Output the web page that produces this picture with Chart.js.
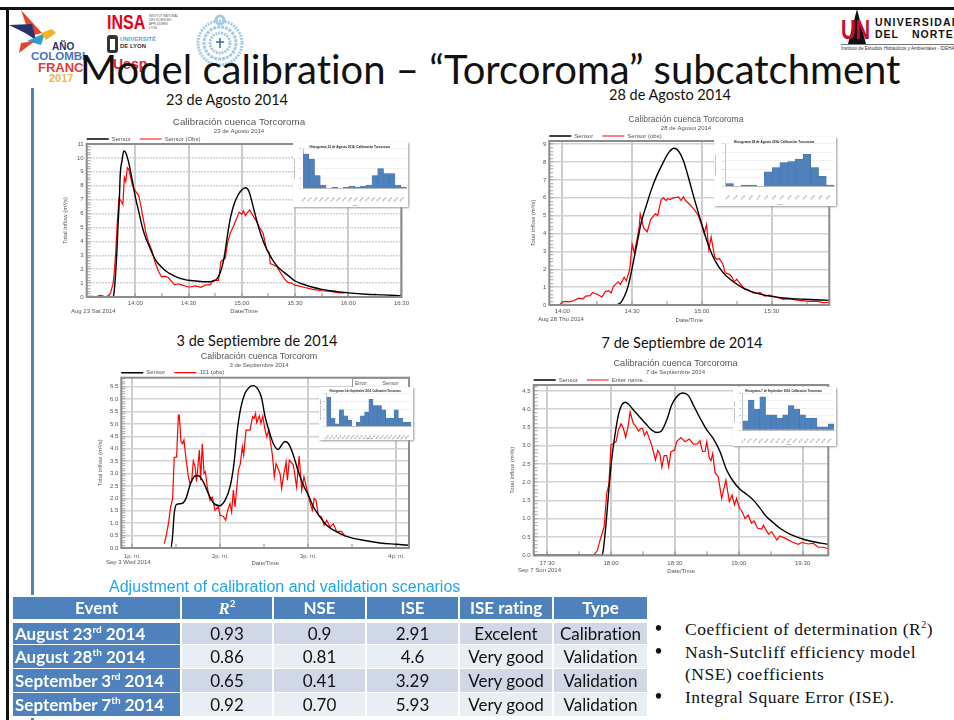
<!DOCTYPE html>
<html>
<head>
<meta charset="utf-8">
<title>Model calibration</title>
<script src="https://cdn.jsdelivr.net/npm/chart.js@4"></script>
<style>
  html, body { margin:0; padding:0; background:#fff; }
  #page { position:relative; width:954px; height:720px; overflow:hidden; background:#fff; filter:blur(0.3px); font-family:Lato, sans-serif; font-variant-ligatures:none; color:#111; }
  #page canvas { position:absolute; }
  .abs { position:absolute; white-space:nowrap; }
  .cap { font-size:14.5px; transform:translateX(-50%); line-height:16px; }
  .stamp { font:6px "Liberation Sans", sans-serif; color:#555; }
  .panel { position:absolute; background:#fff; box-shadow:1px 1px 2px #999; }
  table { position:absolute; left:11px; top:597px; border-collapse:separate; border-spacing:0; table-layout:fixed; width:636px; font-size:17px; text-align:center; }
  td, th { padding:0; border-left:2px solid #fff; box-sizing:border-box; line-height:18px; }
  th { background:#4f81bd; color:#fff; height:26px; border-bottom:4px solid #fff; }
  td { height:24px; border-bottom:1px solid #fff; }
  tr.first td { height:22px; }
  td.ev { background:#4f81bd; color:#fff; font-weight:bold; text-align:left; padding-left:2px; }
  tr.a td:not(.ev) { background:#d0d8e8; }
  tr.b td:not(.ev) { background:#e9edf4; }
  sup { font-size:10px; line-height:0; }
  .note { font:17.5px "Liberation Serif", serif; letter-spacing:0.5px; left:685px; }
  .dot { font:bold 20px "Liberation Serif", serif; left:655px; }
</style>
</head>
<body>
<div id="page">
  <div class="abs" style="left:0;top:7px;width:954px;height:3px;background:#111"></div>
  <div class="abs" style="left:6px;top:7px;width:3px;height:713px;background:#111"></div>
  <div class="abs" style="left:31px;top:88px;width:3px;height:507px;background:#4f81bd"></div>
  <div class="abs" style="left:31px;top:718px;width:3px;height:2px;background:#4f81bd"></div>

  <svg class="abs" style="left:0;top:0" width="260" height="90">
    <polygon points="21,10 42,33 30,36" fill="#e8432e"/>
    <polygon points="9,25 32,24 36,40 25,33" fill="#27336d"/>
    <polygon points="27,41 45,33 41,45" fill="#2f9fc6"/>
    <polygon points="19,53 21,43 35,41" fill="#e8432e"/>
    <polygon points="41,33 52,29 56,33 46,40" fill="#f0b429"/>
    <g fill="none" stroke="#a5c9e6" stroke-width="3">
      <circle cx="220" cy="43" r="22" stroke-dasharray="2 1"/>
      <circle cx="220" cy="43" r="16" stroke-dasharray="3 1"/>
      <circle cx="220" cy="43" r="10" stroke-dasharray="2 1"/>
      <circle cx="220" cy="20" r="4"/>
    </g>
    <path d="M220 38v10M216 42h8" stroke="#3d6d99" stroke-width="1.5"/>
    <rect x="107" y="35" width="11" height="18" rx="3" fill="#333"/>
    <rect x="110" y="39" width="5" height="11" fill="#fff"/>
  </svg>
  <div class="abs" style="left:52px;top:41px;font:bold 10px 'Liberation Sans';color:#27336d">AÑO</div>
  <div class="abs" style="left:31px;top:50px;font:bold 11.5px 'Liberation Sans';color:#4a76b8">COLOMBI</div>
  <div class="abs" style="left:38px;top:60px;font:bold 13px 'Liberation Sans';color:#d9403a">FRANC</div>
  <div class="abs" style="left:49px;top:72px;font:bold 11px 'Liberation Sans';color:#e9b949">2017</div>
  <div class="abs" style="left:107px;top:11px;font:bold 20px 'Liberation Sans';color:#e2001a;transform:scaleX(0.8);transform-origin:left">INSA</div>
  <div class="abs" style="left:149px;top:14px;font:3px 'Liberation Sans';color:#555;line-height:4px">INSTITUT NATIONAL<br>DES SCIENCES<br>APPLIQUÉES<br>LYON</div>
  <div class="abs" style="left:120px;top:36px;font:bold 6px 'Liberation Sans';color:#5aa5cf">UNIVERSITÉ</div>
  <div class="abs" style="left:120px;top:43px;font:bold 6px 'Liberation Sans';color:#333">DE LYON</div>
  <div class="abs" style="left:113px;top:56px;font:bold 14px 'Liberation Sans';color:#d9262c">Uesp</div>

  <svg class="abs" style="left:841px;top:8px" width="30" height="36"><polygon points="16,1 25,36 7,36" fill="#111"/></svg>
  <div class="abs" style="left:841px;top:15px;font:bold 27px 'Liberation Sans';color:#c8102e;transform:scaleX(0.75);transform-origin:left">UN</div>
  <div class="abs" style="left:875px;top:16px;font:bold 10.5px 'Liberation Sans';letter-spacing:1.2px;color:#111">UNIVERSIDAD</div>
  <div class="abs" style="left:875px;top:28px;font:bold 10.5px 'Liberation Sans';letter-spacing:1px;color:#111">DEL</div>
  <div class="abs" style="left:912px;top:28px;font:bold 10.5px 'Liberation Sans';letter-spacing:1px;color:#111">NORTE</div>
  <div class="abs" style="left:841px;top:44px;width:113px;height:1px;background:#777"></div>
  <div class="abs" style="left:841px;top:46px;font:4.6px 'Liberation Sans';color:#333">Instituto de Estudios Hidráulicos y Ambientales - IDEHA</div>

  <div class="abs" id="slideTitle" style="left:80px;top:45px;font-size:40px;line-height:48px;color:#111">Model calibration – “Torcoroma” subcatchment</div>

  <div class="abs cap" style="left:227px;top:92px">23 de Agosto 2014</div>
  <div class="abs cap" style="left:670px;top:87px">28 de Agosto 2014</div>
  <div class="abs cap" style="left:257px;top:333px">3 de Septiembre de 2014</div>
  <div class="abs cap" style="left:682px;top:335px">7 de Septiembre de 2014</div>

  <canvas id="flow1" width="354" height="203" style="left:62px;top:112px"></canvas>
  <canvas id="flow2" width="312" height="215" style="left:530px;top:109px"></canvas>
  <canvas id="flow3" width="328" height="222" style="left:95px;top:345px"></canvas>
  <canvas id="flow4" width="341" height="222" style="left:505px;top:353px"></canvas>

  <div class="abs stamp" style="left:71px;top:308px">Aug 23 Sat 2014</div>
  <div class="abs stamp" style="left:538px;top:316px">Aug 28 Thu 2014</div>
  <div class="abs stamp" style="left:106px;top:559px">Sep 3 Wed 2014</div>
  <div class="abs stamp" style="left:518px;top:567px">Sep 7 Sun 2014</div>

  <div class="abs" style="left:352px;top:378px;width:55px;height:9px;background:#fff;border:1px solid #999;font:5px/9px 'Liberation Sans';color:#555"><span style="margin-left:2px">Error:</span><span style="margin-left:15px">Sensor</span></div>

  <div class="panel" style="left:293px;top:142px;width:115px;height:65px"></div>
  <div class="panel" style="left:714px;top:137px;width:122px;height:69px"></div>
  <div class="panel" style="left:319px;top:387px;width:94px;height:53px"></div>
  <div class="panel" style="left:733px;top:387px;width:103px;height:59px"></div>
  <canvas id="rain1" width="115" height="65" style="left:293px;top:142px"></canvas>
  <canvas id="rain2" width="122" height="69" style="left:714px;top:137px"></canvas>
  <canvas id="rain3" width="94" height="53" style="left:319px;top:387px"></canvas>
  <canvas id="rain4" width="103" height="59" style="left:733px;top:387px"></canvas>

  <div class="abs" style="left:109px;top:578px;font:16px/18px 'Liberation Sans';color:#1ea7ea">Adjustment of calibration and validation scenarios</div>
  <table>
    <colgroup><col style="width:169px"><col style="width:92px"><col style="width:93px"><col style="width:93px"><col style="width:94px"><col style="width:95px"></colgroup>
    <tr><th>Event</th><th><i style="font-family:'Liberation Serif'">R</i><sup>2</sup></th><th>NSE</th><th>ISE</th><th>ISE rating</th><th>Type</th></tr>
    <tr class="a first"><td class="ev">August 23<sup>rd</sup> 2014</td><td>0.93</td><td>0.9</td><td>2.91</td><td>Excelent</td><td>Calibration</td></tr>
    <tr class="b"><td class="ev">August 28<sup>th</sup> 2014</td><td>0.86</td><td>0.81</td><td>4.6</td><td>Very good</td><td>Validation</td></tr>
    <tr class="a"><td class="ev">September 3<sup>rd</sup> 2014</td><td>0.65</td><td>0.41</td><td>3.29</td><td>Very good</td><td>Validation</td></tr>
    <tr class="b"><td class="ev">September 7<sup>th</sup> 2014</td><td>0.92</td><td>0.70</td><td>5.93</td><td>Very good</td><td>Validation</td></tr>
  </table>

  <div class="abs dot" style="top:617px">•</div>
  <div class="abs dot" style="top:640px">•</div>
  <div class="abs dot" style="top:685px">•</div>
  <div class="abs note" style="top:619px">Coefficient of determination (R<sup>2</sup>)</div>
  <div class="abs note" style="top:642px">Nash-Sutcliff efficiency model</div>
  <div class="abs note" style="top:664px">(NSE) coefficients</div>
  <div class="abs note" style="top:687px">Integral Square Error (ISE).</div>
</div>

<script>
// 23 Aug, minutes from 14:00
const aug23SensorTime = [-27,-12.6,-12,-11.2,-10.5,-9.8,-9,-8.5,-7.5,-6.5,-5.5,-4,-2,0,2,4,6,8,10,12,14,16,18,20,24,28,30,34,38,42,44,46,48,50,51,52,53,54,55,56,57,58,59,60,61,62,63,64,65,66,67,68,70,72,74,76,78,80,84,88,90,95,100,105,110,115,120,130,140,150];
const aug23Sensor = [0,0,0.3,1.5,3,5,7,8.8,9.8,10.5,10.4,9.8,8.6,7.2,6.1,5,4.2,3.6,3,2.55,2.25,2,1.8,1.65,1.4,1.25,1.2,1.15,1.1,1.1,1.15,1.3,1.8,2.8,3.6,4.5,5.3,5.9,6.4,6.8,7.1,7.35,7.55,7.7,7.8,7.85,7.8,7.6,7.2,6.7,6.2,5.7,4.8,4.05,3.45,2.95,2.55,2.2,1.75,1.35,1.15,0.9,0.7,0.55,0.45,0.37,0.3,0.2,0.15,0.08];
const aug23ObsTime = [-27,-24,-22,-20,-18,-17,-15,-14,-12.5,-12,-11,-10,-9.2,-8,-7,-6.2,-5.4,-4.5,-3.8,-2.8,-1.6,-0.4,0.7,1.9,3.2,4.5,6,7.3,9.2,11,13,14.8,16.7,18.6,20.5,22.3,24,26,30,32,33.7,37,39.6,42,44,46.9,48.2,50.7,52,53.5,55,57,58.5,60,61,62,63,64.5,66,68,70,72,74,75.5,76,78,80,82,84,86,88,90,95,100,105,110,115,118];
const aug23Obs = [0.05,0.05,0.02,0.12,0.07,0,0.1,0.25,1,1.6,3.3,5.7,7.1,6.9,6.65,8.6,8.3,9.3,9.2,8.7,8,7.7,7.5,7.3,6.5,5.6,4.6,4,3.4,2.55,1.85,1.45,1.5,1.4,1.1,0.87,0.95,0.87,0.72,0.75,0.8,0.7,0.87,0.87,1.2,1.2,2.55,2.8,3.9,4.6,5,5.6,6.1,5.95,6.2,5.85,6.05,6.25,5.9,5.5,5,4.6,3.4,3.2,2.4,2.3,2.15,1.7,1.3,1.05,1,0.85,0.7,0.55,0.45,0.4,0.3,0.3];
const aug23TickValues = [0,30,60,90,120,150];
const aug23TickLabels = ['14:00','14:30','15:00','15:30','16:00','16:30'];

// 28 Aug, minutes from 14:00
const aug28SensorTime = [-5.6,21.9,24.8,26.9,28.4,30,32,34,36.2,38.4,40.5,42.7,45.6,48,49.8,52,54.2,56.3,60,62.8,65.6,69.2,73.5,77.8,82,89,96.4,104,114.8];
const aug28Sensor = [0,0,0.1,0.55,1.1,2.05,3.35,4.65,5.6,6.5,7.2,7.8,8.5,8.77,8.65,8.1,7.15,6.15,4.5,3.35,2.5,1.8,1.3,0.95,0.72,0.5,0.38,0.32,0.26];
const aug28ObsTime = [-5.6,-1,0,1.5,3,5,7,9,10,12,13,15,17,18.5,20,21,22,24,25,26.6,27.5,29,30,31,32,33,33.5,35,36.5,38,40,41,42.5,43.5,44.5,45.5,46.5,47.5,49,50,51,52,53,55,57,58.5,60,61,62,63,64,65.5,66.5,67.5,69,70,72,73,74,75,77,78.5,80,82,84,85,87,89,92,95,98,100,103,106,108,110,112,114.8];
const aug28Obs = [0,0.02,0.17,0.2,0.18,0.25,0.38,0.35,0.5,0.52,0.7,0.6,0.45,0.75,0.8,0.68,1.05,1.3,1.15,1.55,1.35,2,3.4,2.9,3.6,4.3,5.1,4.3,4.1,4.8,5.1,5,5.9,6,5.85,5.95,5.9,6,6.02,6.05,5.85,6.05,5.85,5.6,5.3,5,4.45,4,4.5,3.1,3.8,2.7,2.55,2.6,2.3,1.8,1.7,1.55,1.3,1.45,1.1,0.9,0.85,0.67,0.65,0.7,0.5,0.55,0.45,0.32,0.35,0.28,0.25,0.2,0.22,0.2,0.13,0.15];
const aug28TickValues = [0,30,60,90];
const aug28TickLabels = ['14:00','14:30','15:00','15:30'];

// 3 Sep, minutes from 13:00
const sep3SensorTime = [-7.5,26.1,27.3,28.6,30.2,33.6,36.6,39.3,42.7,45,48.4,51.8,55.2,59.3,63.2,66.6,69.3,71.6,73.9,76.8,80.2,82.5,85.9,88.2,90.5,92.7,96.1,99.5,101.8,104,106.4,109.8,113.2,116.6,120,123.4,128,132.5,139.3,146,157.5,168.9,180,188.6];
const sep3Sensor = [0,0,0.38,1.4,1.76,1.79,2,2.53,2.9,2.91,2.66,2.2,1.82,1.7,1.92,2.46,3.4,4.75,5.63,6.23,6.5,6.54,6.37,6.03,5.29,4.82,4.21,3.97,4.15,4.29,4.21,3.74,3.07,2.53,2.13,1.66,1.25,0.92,0.65,0.47,0.31,0.2,0.15,0.11];
const sep3ObsTime = [21.8,23.4,24.8,26.1,27.5,28.6,30.2,31.4,32,33.2,34.3,35.2,36.6,38.2,39.3,40.5,41.6,42.7,43.8,45.7,46.6,47.7,48.9,49.8,51.1,52.9,54.5,56.4,58.6,59.8,62,63.6,65,66.6,67.7,68.9,70,72.3,73.6,75,75.9,77.5,80.2,82,83,84,84.8,86.6,87.7,88.9,90.5,91.6,93,94.3,95.5,96.8,98,100.7,101.8,103.4,104.8,105.7,107,109.8,112,113.7,115.5,117,118.9,120.7,122.7,124,125.2,126.8,129,130.7,132.5,134.8,137,139.3,142.7,145];
const sep3Obs = [0.18,0.58,1.05,1.65,2,3.65,3.67,5.35,5.35,4.28,4.2,4.35,3.6,2.87,2.6,2.74,3.5,3.3,2.67,3.95,2.73,4.2,3,3.07,2.46,1.92,2.05,1.52,1.66,1.32,1.28,1.12,1.52,1.79,1.45,2.33,1.65,3.13,3.38,4.08,3.74,4.75,4.75,5.29,5.22,5.42,5.05,5.32,5.02,5.32,4.75,4.48,4.75,4.21,3.74,2.87,3.4,3,2.4,3,3.47,2.73,3.54,3.34,2.46,3.7,2.33,2.87,2.4,1.92,1.52,1.99,1.92,1.32,1.25,0.92,1.12,0.85,0.98,0.67,0.67,0.47];
const sep3TickValues = [0,60,120,180];
const sep3TickLabels = ['1p. m.','2p. m.','3p. m.','4p. m.'];

// 7 Sep, minutes from 17:30
const sep7SensorTime = [-6.3,25.7,26.4,27.7,29,30.4,32,33.5,35,36.6,38.2,40.5,43.6,46.8,49.1,51.5,53.8,56.2,58.5,60.9,63.7,66.4,68.7,71.9,75,78,81.2,84.3,87.5,90.6,93.7,96.9,100,103,106.3,109.4,114,118.8,123.5,132.1];
const sep7Sensor = [0,0,0.15,0.88,1.79,2.65,3.34,3.84,4.11,4.19,4.14,3.98,3.78,3.57,3.43,3.36,3.41,3.7,4.11,4.34,4.44,4.37,4.11,3.75,3.43,3.2,2.84,2.34,2.02,1.81,1.67,1.51,1.29,1.06,0.89,0.74,0.58,0.47,0.39,0.3];
const sep7ObsTime = [21.8,23.6,24.9,26.8,28,29,30,31,32.4,33.5,34.7,35.8,36.9,37.9,39,40.5,41.8,42.9,44,44.9,45.7,46.8,48,49.1,49.9,50.9,52,53,53.9,55,56.2,57.1,58.2,59.8,60.9,62.8,64.8,66.8,68.7,70.6,71.8,73,74.2,75,76.2,77,77.8,78.9,80.4,82,84,85.6,86.9,88,89,90.3,91.4,93,94.5,96,97.2,98.9,100.8,101.6,104,105.5,107.9,109.4,111.7,114.9,118,119.6,122.7,125,127.3,129.7,132.1];
const sep7Obs = [0,0.13,0.42,0.78,1.7,1.93,3.02,3.05,3.11,3.43,3.6,3.48,3.23,3.48,3.92,3.6,3.52,3.4,3.47,3.47,3.28,3.39,3.2,3.02,2.84,2.61,2.87,2.77,2.41,2.73,2.73,2.43,2.84,2.87,3.11,3.22,3.11,3.18,3.04,3.05,3.14,2.84,2.84,3.11,2.66,2.59,2.79,2.26,2.15,1.56,2.06,1.47,1.65,1.38,1.56,1.29,1.22,1.01,1.1,0.88,0.94,0.74,0.72,0.82,0.58,0.65,0.42,0.53,0.47,0.37,0.3,0.35,0.31,0.33,0.22,0.22,0.18];
const sep7TickValues = [0,30,60,90,120];
const sep7TickLabels = ['17:30','18:00','18:30','19:00','19:30'];

// rainfall insets
const rain1Labels = ['13:30','13:40','13:50','14:00','14:10','14:20','14:30','14:40','14:50','15:00','15:10','15:20','15:30','15:40','15:50','16:00','16:10','16:20'];
const rain1Values = [6.9,5.9,2.6,0.7,0,0.3,0,0.3,0.5,0.3,0.5,0.7,2.6,4,3,3,0.7,0.3];
const rain2Labels = ['14:00','14:10','14:20','14:30','14:40','14:50','15:00','15:10','15:20','15:30','15:40','15:50','16:00','16:10'];
const rain2Values = [0.33,0,0.17,0.17,0,1.7,2.2,2.8,2.9,3.2,3.75,2.2,1.2,0.17];
const rain3Labels = ['13:00','13:10','13:20','13:30','13:40','13:50','14:00','14:10','14:20','14:30','14:40','14:50','15:00','15:10','15:20','15:30','15:40','15:50','16:00','16:10'];
const rain3Values = [3.5,1,0.3,2,1.25,0.75,0,0.5,1.25,1.75,3.25,2.5,2.5,2,1,1,2,1,0.5,0.5];
const rain4Labels = ['17:30','17:40','17:50','18:00','18:10','18:20','18:30','18:40','18:50','19:00','19:10','19:20','19:30','19:40','19:50','20:00'];
const rain4Values = [1.25,4.07,2.87,4.54,2.08,2.08,1.62,2.08,3.33,2.87,2.08,1.62,1.62,0.42,0.42,0.83];

const FONT = '"Liberation Sans", sans-serif';
const GREY = '#555';

function zip(xs, ys) {
  return xs.map(function(x, i){ return { x: x, y: ys[i] }; });
}

function stepTicks(min, max, step) {
  const out = [];
  for (let i = Math.ceil(min / step - 1e-6); i * step <= max + 1e-6; i++) {
    out.push({ value: Math.round(i * step * 1000) / 1000 });
  }
  return out;
}

// legend sits tight on the plot, titles center on the whole canvas
const tightLegend = {
  id: 'tightLegend',
  beforeInit(chart) {
    const fit = chart.legend.fit;
    chart.legend.fit = function(){ fit.call(this); this.height = 9; };
  },
  afterLayout(chart) {
    chart.legend.top -= 8;
    chart.legend.left -= 9;
    const shift = chart.options.layout.padding.right / 2;
    chart.boxes.forEach(function(box){
      if (box.position === 'top' && box !== chart.legend) {
        box.left += shift;
        box.right += shift;
      }
    });
  }
};

const plotBox = {
  id: 'plotBox',
  afterDraw(chart) {
    const a = chart.chartArea;
    const ctx = chart.ctx;
    ctx.save();
    ctx.strokeStyle = '#8c8c8c';
    ctx.lineWidth = 2;
    ctx.strokeRect(a.left, a.top, a.right - a.left, a.bottom - a.top);
    ctx.restore();
  }
};

function flowChart(cfg) {
  const isMajorY = function(v){ return Math.abs(v / cfg.yStep - Math.round(v / cfg.yStep)) < 1e-6; };
  const chart = new Chart(document.getElementById(cfg.id), {
    type: 'line',
    data: {
      datasets: [
        { label: 'Sensor', data: zip(cfg.sensorTime, cfg.sensor), borderColor: '#000', backgroundColor: '#000', borderWidth: 1.4, pointRadius: 0, cubicInterpolationMode: 'monotone' },
        { label: cfg.obsName, data: zip(cfg.obsTime, cfg.obs), borderColor: '#f00', backgroundColor: '#f00', borderWidth: 1.2, pointRadius: 0, tension: 0 }
      ]
    },
    options: {
      responsive: false,
      animation: false,
      layout: { padding: { top: 0, right: cfg.padRight, bottom: 0, left: 0 } },
      plugins: {
        title: { display: true, text: cfg.title, color: GREY, padding: 0, font: { family: FONT, size: cfg.titleSize, weight: 'normal' } },
        subtitle: { display: true, text: cfg.subtitle, color: GREY, padding: 0, font: { family: FONT, size: 6 } },
        legend: {
          align: 'start',
          fullSize: false,
          labels: { color: GREY, font: { family: FONT, size: 6 }, usePointStyle: true, pointStyle: 'line', pointStyleWidth: 22, padding: 9, boxHeight: 6 }
        },
        tooltip: { enabled: false }
      },
      scales: {
        x: {
          type: 'linear',
          min: cfg.xMin,
          max: cfg.xMax,
          afterFit(scale) { scale.height = cfg.xAxisHeight; },
          afterBuildTicks(scale) { scale.ticks = stepTicks(cfg.xMin, cfg.xMax, cfg.xMinor); },
          ticks: {
            autoSkip: false, maxRotation: 0, padding: cfg.xTickPad, color: GREY, font: { family: FONT, size: 6 },
            callback: function(v){ const i = cfg.tickValues.indexOf(v); return i < 0 ? '' : cfg.tickLabels[i]; }
          },
          grid: {
            tickLength: -4, tickColor: '#8c8c8c', tickWidth: 1,
            color: function(c){ return c.tick && cfg.tickValues.indexOf(c.tick.value) >= 0 ? '#cccccc' : 'transparent'; },
            lineWidth: 2
          },
          border: { display: false },
          title: { display: true, text: 'Date/Time', color: GREY, padding: { top: 0, bottom: 0 }, font: { family: FONT, size: 6 } }
        },
        y: {
          min: 0,
          max: cfg.yMax,
          afterFit(scale) { scale.width = cfg.yAxisWidth; },
          afterBuildTicks(scale) { scale.ticks = stepTicks(0, cfg.yMax, cfg.yMinor); },
          ticks: {
            autoSkip: false, padding: 7, color: GREY, font: { family: FONT, size: 6 },
            callback: function(v){ return isMajorY(v) ? v.toFixed(cfg.yDigits) : ''; }
          },
          grid: {
            tickLength: -4, tickColor: '#a5a5a5', tickWidth: 1,
            color: function(c){ return c.tick && isMajorY(c.tick.value) ? '#d2d2d2' : 'transparent'; },
            lineWidth: 1.5
          },
          border: { display: false, dash: cfg.yDash },
          title: { display: true, text: cfg.yTitle, color: GREY, padding: { top: cfg.yTitlePad, bottom: 0 }, font: { family: FONT, size: 6 } }
        }
      }
    },
    plugins: [tightLegend, plotBox]
  });
  // put the plot top where it belongs
  chart.options.layout.padding.top = cfg.plotTop - chart.chartArea.top;
  chart.update();
}

function rainChart(cfg) {
  new Chart(document.getElementById(cfg.id), {
    type: 'bar',
    data: {
      labels: cfg.labels,
      datasets: [{ data: cfg.values, backgroundColor: '#4f81bd', borderColor: '#44719f', borderWidth: 0.5, barPercentage: 1, categoryPercentage: 1 }]
    },
    options: {
      responsive: false,
      animation: false,
      layout: { padding: { top: 0, right: cfg.padRight, bottom: 0, left: 0 } },
      plugins: {
        legend: { display: false },
        tooltip: { enabled: false },
        title: { display: true, text: cfg.title, color: '#222', padding: { top: 3, bottom: 0 }, font: { family: FONT, size: cfg.titleSize, weight: 'bold' } }
      },
      scales: {
        x: {
          afterFit(scale) { scale.height = cfg.xAxisHeight; },
          ticks: { autoSkip: false, minRotation: 45, maxRotation: 45, padding: 0, color: '#555', font: { family: FONT, size: 2.2 } },
          grid: { display: false },
          border: { color: '#888', width: 0.5 },
          title: { display: true, text: 'Hora', color: '#555', padding: 0, font: { family: FONT, size: 2.5 } }
        },
        y: {
          min: 0,
          max: cfg.yMax,
          afterFit(scale) { scale.width = cfg.yAxisWidth; },
          ticks: { stepSize: 1, padding: 1, color: '#555', font: { family: FONT, size: 2.5 } },
          grid: { color: '#e2e2e2', lineWidth: 0.5, tickLength: 1 },
          border: { color: '#888', width: 0.5 },
          title: { display: true, text: 'Precipitación (mm)', color: '#555', padding: 0, font: { family: FONT, size: 2.5 } }
        }
      }
    }
  });
}

flowChart({
  id: 'flow1', title: 'Calibración cuenca Torcoroma', subtitle: '23 de Agosto 2014', titleSize: 9.8, obsName: 'Sensor (Obs)',
  sensorTime: aug23SensorTime, sensor: aug23Sensor, obsTime: aug23ObsTime, obs: aug23Obs,
  tickValues: aug23TickValues, tickLabels: aug23TickLabels, xTickPad: 7,
  xMin: -27.4, xMax: 150, xMinor: 15, yMax: 11, yStep: 1, yMinor: 0.2, yDigits: 0, yDash: [2, 1],
  yTitle: 'Total inflow (m³/s)', yTitlePad: 0, yAxisWidth: 24.7, xAxisHeight: 18, padRight: 14.3, plotTop: 32
});
flowChart({
  id: 'flow2', title: 'Calibración cuenca Torcoroma', subtitle: '28 de Agosot 2014', titleSize: 8.5, obsName: 'Sensor (obs)',
  sensorTime: aug28SensorTime, sensor: aug28Sensor, obsTime: aug28ObsTime, obs: aug28Obs,
  tickValues: aug28TickValues, tickLabels: aug28TickLabels, xTickPad: 7,
  xMin: -5.6, xMax: 114.8, xMinor: 15, yMax: 9.18, yStep: 1, yMinor: 0.2, yDigits: 0, yDash: [],
  yTitle: 'Total inflow (m³/s)', yTitlePad: 0, yAxisWidth: 19.3, xAxisHeight: 19, padRight: 12.7, plotTop: 32
});
flowChart({
  id: 'flow3', title: 'Calibración cuenca Torcorom', subtitle: '3 de Septiembre 2014', titleSize: 9, obsName: 'J21 (obs)',
  sensorTime: sep3SensorTime, sensor: sep3Sensor, obsTime: sep3ObsTime, obs: sep3Obs,
  tickValues: sep3TickValues, tickLabels: sep3TickLabels, xTickPad: 9,
  xMin: -7.5, xMax: 188.6, xMinor: 30, yMax: 6.86, yStep: 0.5, yMinor: 0.1, yDigits: 1, yDash: [],
  yTitle: 'Total inflow (m³/s)', yTitlePad: 1.4, yAxisWidth: 26.3, xAxisHeight: 19, padRight: 14, plotTop: 32.7
});
flowChart({
  id: 'flow4', title: 'Calibración cuenca Torcoroma', subtitle: '7 de Septiembre 2014', titleSize: 9.2, obsName: 'Enter name...',
  sensorTime: sep7SensorTime, sensor: sep7Sensor, obsTime: sep7ObsTime, obs: sep7Obs,
  tickValues: sep7TickValues, tickLabels: sep7TickLabels, xTickPad: 8,
  xMin: -6.3, xMax: 132.1, xMinor: 15, yMax: 4.66, yStep: 0.5, yMinor: 0.1, yDigits: 1, yDash: [],
  yTitle: 'Total inflow (m³/s)', yTitlePad: 4, yAxisWidth: 28.7, xAxisHeight: 19.7, padRight: 17.7, plotTop: 32
});

rainChart({ id: 'rain1', labels: rain1Labels, values: rain1Values, title: 'Histograma 23 de Agosto 2014. Calibración Torcoroma', titleSize: 3.1, yMax: 8, yAxisWidth: 10, xAxisHeight: 18.5, padRight: 1.5 });
rainChart({ id: 'rain2', labels: rain2Labels, values: rain2Values, title: 'Histograma 28 de Agosto 2014. Calibración Torcoroma', titleSize: 3.1, yMax: 5, yAxisWidth: 11.7, xAxisHeight: 19.5, padRight: 2 });
rainChart({ id: 'rain3', labels: rain3Labels, values: rain3Values, title: 'Histograma 3 de Septiembre 2014. Calibración Torcoroma', titleSize: 2.6, yMax: 4, yAxisWidth: 7.7, xAxisHeight: 13.7, padRight: 2 });
rainChart({ id: 'rain4', labels: rain4Labels, values: rain4Values, title: 'Histograma 7 de Septiembre 2014. Calibración Torcoroma', titleSize: 2.8, yMax: 5, yAxisWidth: 9.7, xAxisHeight: 16, padRight: 2 });
</script>
</body>
</html>
